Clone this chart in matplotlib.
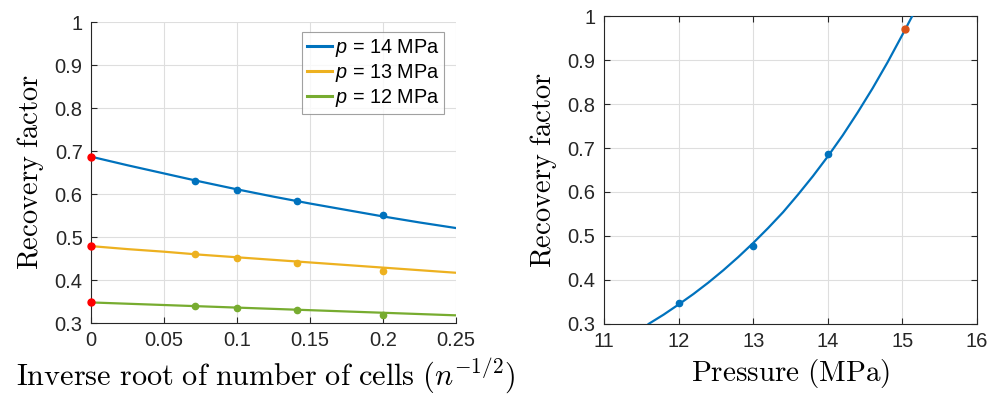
import matplotlib
matplotlib.use("Agg")
import matplotlib.pyplot as plt

plt.rcParams['font.family'] = ['Liberation Sans', 'DejaVu Sans']
plt.rcParams['mathtext.fontset'] = 'custom'
plt.rcParams['mathtext.it'] = 'Liberation Sans:italic'
plt.rcParams['mathtext.rm'] = 'Liberation Sans'

# ---- Left panel data ----
inv_root = [0.0714, 0.1, 0.1414, 0.2]
rf_14 = [0.630, 0.609, 0.584, 0.551]
rf_13 = [0.460, 0.452, 0.439, 0.422]
rf_12 = [0.339, 0.336, 0.330, 0.319]
extrap_x = [0.0, 0.0, 0.0]
extrap_rf = [0.687, 0.479, 0.348]

fit_x = [0.0, 0.025, 0.05, 0.075, 0.1, 0.125, 0.15, 0.175, 0.2, 0.225, 0.25]
fit_14 = [0.687, 0.667, 0.648, 0.629, 0.611, 0.594, 0.578, 0.563, 0.548, 0.534, 0.521]
fit_13 = [0.479, 0.472, 0.466, 0.459, 0.453, 0.447, 0.441, 0.435, 0.429, 0.423, 0.417]
fit_12 = [0.348, 0.345, 0.342, 0.339, 0.336, 0.333, 0.330, 0.327, 0.324, 0.321, 0.318]
legend_labels = ['$p$ = 14 MPa', '$p$ = 13 MPa', '$p$ = 12 MPa']

# ---- Right panel data ----
pressure = [12, 13, 14]
rf_extrap = [0.347, 0.477, 0.686]
pred_p = [15.04]
pred_rf = [0.970]
curve_p = [11.6, 11.8, 12.0, 12.2, 12.4, 12.6, 12.8, 13.0, 13.2, 13.4, 13.6,
           13.8, 14.0, 14.2, 14.4, 14.6, 14.8, 15.0, 15.13]
curve_rf = [0.300, 0.321, 0.344, 0.368, 0.394, 0.422, 0.452, 0.484, 0.518, 0.554,
            0.594, 0.636, 0.681, 0.729, 0.781, 0.836, 0.895, 0.958, 1.000]

BLUE = '#0072BD'
YELLOW = '#EDB120'
GREEN = '#77AC30'
ORANGE = '#D95319'
RED = '#FF0000'
GRIDC = '#DEDEDE'
AXC = '#262626'

fig = plt.figure(figsize=(9.9, 3.94), dpi=100)
ax1 = fig.add_axes([0.0919, 0.180, 0.3687, 0.764])
ax2 = fig.add_axes([0.610, 0.178, 0.377, 0.781])

lw = 1.6
ms = 4.5
TICK_FS = 14.5
LAB_FS = 20.5
ax1.plot(fit_x, fit_14, color=BLUE, lw=lw, label=legend_labels[0], zorder=3)
ax1.plot(fit_x, fit_13, color=YELLOW, lw=lw, label=legend_labels[1], zorder=3)
ax1.plot(fit_x, fit_12, color=GREEN, lw=lw, label=legend_labels[2], zorder=3)
ax1.plot(inv_root, rf_14, 'o', color=BLUE, ms=ms, zorder=4)
ax1.plot(inv_root, rf_13, 'o', color=YELLOW, ms=ms, zorder=4)
ax1.plot(inv_root, rf_12, 'o', color=GREEN, ms=ms, zorder=4)
ax1.plot(extrap_x, extrap_rf, 'o', color=RED, ms=ms + 0.5, zorder=5, clip_on=False)

ax1.set_xlim(0, 0.25)
ax1.set_ylim(0.3, 1.0)
ax1.set_xticks([0, 0.05, 0.1, 0.15, 0.2, 0.25])
ax1.set_xticklabels(['0', '0.05', '0.1', '0.15', '0.2', '0.25'])
ax1.set_yticks([0.3, 0.4, 0.5, 0.6, 0.7, 0.8, 0.9, 1.0])
ax1.set_yticklabels(['0.3', '0.4', '0.5', '0.6', '0.7', '0.8', '0.9', '1'])
ax1.spines['top'].set_visible(False)
ax1.spines['right'].set_visible(False)
for s in ['left', 'bottom']:
    ax1.spines[s].set_color(AXC)
    ax1.spines[s].set_linewidth(0.8)
ax1.grid(True, color=GRIDC, lw=0.8)
ax1.set_axisbelow(True)
ax1.tick_params(direction='in', length=4, width=0.8, colors=AXC, labelsize=TICK_FS, pad=6)
ax1.set_ylabel(r'$\mathrm{Recovery\ factor}$', fontsize=LAB_FS, math_fontfamily='cm', labelpad=6)
ax1.set_xlabel(r'$\mathrm{Inverse\ root\ of\ number\ of\ cells}\ (n^{-1/2})$', fontsize=21.8,
               math_fontfamily='cm', labelpad=4)
ax1.xaxis.set_label_coords(0.478, -0.105, transform=ax1.transAxes)
ax1.xaxis.label.set_va('top')
leg = ax1.legend(loc='upper right', bbox_to_anchor=(0.968, 0.967), fontsize=14.3, frameon=True,
                 fancybox=False, edgecolor='#8a8a8a', handlelength=1.25, handletextpad=0.15,
                 borderpad=0.25, labelspacing=0.16, borderaxespad=0.0)
leg.get_frame().set_linewidth(0.8)
for l in leg.get_lines():
    l.set_linewidth(2.2)

ax2.plot(curve_p, curve_rf, color=BLUE, lw=lw, zorder=3)
ax2.plot(pressure, rf_extrap, 'o', color=BLUE, ms=ms, zorder=4)
ax2.plot(pred_p, pred_rf, 'o', color=ORANGE, ms=ms + 0.5, zorder=5)
ax2.set_xlim(11, 16)
ax2.set_ylim(0.3, 1.0)
ax2.set_xticks([11, 12, 13, 14, 15, 16])
ax2.set_yticks([0.3, 0.4, 0.5, 0.6, 0.7, 0.8, 0.9, 1.0])
ax2.set_yticklabels(['0.3', '0.4', '0.5', '0.6', '0.7', '0.8', '0.9', '1'])
for s in ax2.spines.values():
    s.set_color(AXC)
    s.set_linewidth(0.8)
ax2.grid(True, color=GRIDC, lw=0.8)
ax2.set_axisbelow(True)
ax2.tick_params(direction='in', length=4, width=0.8, colors=AXC, labelsize=TICK_FS, pad=6,
                top=True, right=True)
ax2.set_ylabel(r'$\mathrm{Recovery\ factor}$', fontsize=LAB_FS, math_fontfamily='cm', labelpad=6)
ax2.set_xlabel(r'$\mathrm{Pressure\ (MPa)}$', fontsize=21, math_fontfamily='cm', labelpad=4)

fig.savefig('out.png', dpi=100)
